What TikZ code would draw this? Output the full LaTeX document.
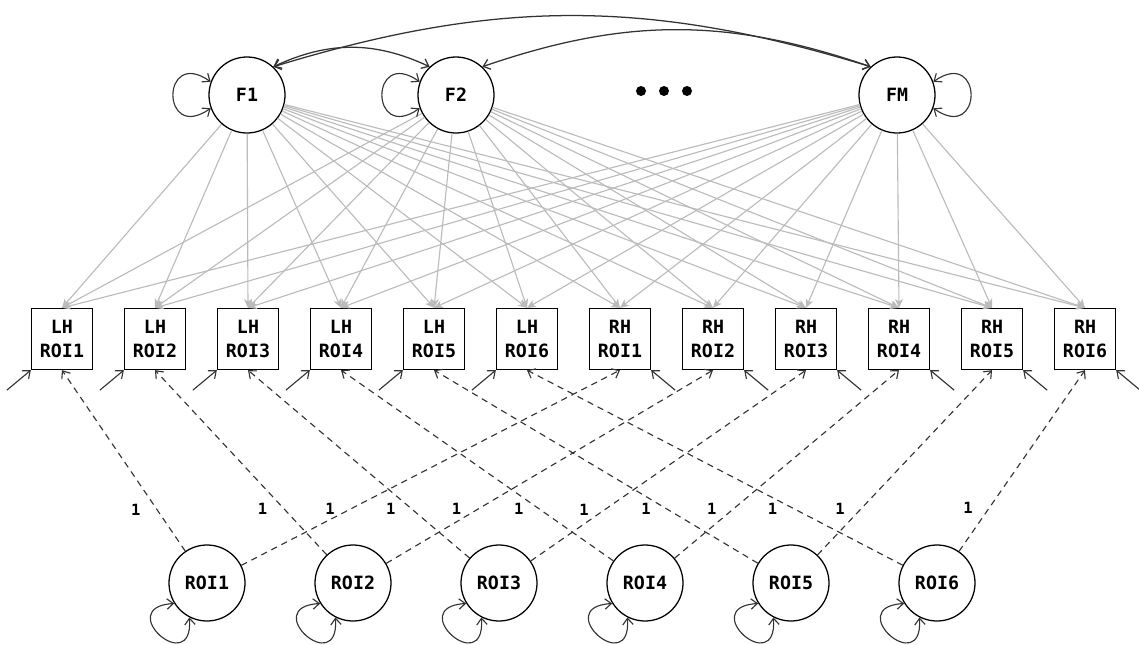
\documentclass[tikz,border=0pt]{standalone}
\usepackage{fontspec}
\setmonofont{DejaVu Sans Mono}
\usetikzlibrary{arrows.meta}
\definecolor{loadgray}{RGB}{187,187,187}
\definecolor{pathgray}{RGB}{51,51,51}

\begin{document}
\begin{tikzpicture}[
  x=0.025cm, y=-0.025cm,
  >={Straight Barb[length=1.6mm, width=2.6mm]},
  every node/.style={font=\ttfamily\bfseries\fontsize{13}{17}\selectfont},
  latent/.style={circle, draw=black, line width=0.9pt, minimum size=1.9cm, inner sep=0pt},
  indicator/.style={rectangle, draw=black, line width=0.9pt, minimum size=1.525cm, inner sep=0pt, align=center},
  dotmark/.style={circle, fill=black, minimum size=0.25cm, inner sep=0pt},
  loading/.style={-{Stealth[length=2.2mm, width=2mm, inset=0.6mm]}, draw=loadgray, line width=0.8pt},
  covar/.style={<->, draw=pathgray, line width=0.9pt},
  selfloop/.style={<->, draw=pathgray, line width=0.8pt},
  residual/.style={->, draw=pathgray, line width=0.8pt},
  fixedpath/.style={->, draw=pathgray, line width=0.8pt, dash pattern=on 4.5pt off 3.5pt},
  onelabel/.style={font=\ttfamily\bfseries\fontsize{11}{12}\selectfont, left=8pt},
]
\useasboundingbox (0,0) rectangle (1139,645);

% ---- common factors ----
\node[latent] (F1) at (247,95) {F1};
\node[latent] (F2) at (456,95) {F2};
\node[latent] (FM) at (897,95) {FM};
\node[dotmark] (d1) at (641,91) {};
\node[dotmark] (d2) at (664,91) {};
\node[dotmark] (d3) at (687,91) {};

% ---- observed ROIs and unique ROI factors ----
\foreach \i in {1,...,6} {
  \node[indicator] (LH\i) at ({62+93*(\i-1)},339) {LH\\ROI\i};
  \node[indicator] (RH\i) at ({620+93*(\i-1)},339) {RH\\ROI\i};
  \node[latent] (R\i) at ({207+146*(\i-1)},583) {ROI\i};
}

% ---- loadings ----
\foreach \f in {F1,F2,FM}
  \foreach \i in {1,...,6} {
    \draw[loading] (\f) -- (LH\i.north);
    \draw[loading] (\f) -- (RH\i.north);
  }

% ---- factor covariances and variances ----
\draw[covar] (F1.47) to[bend left=25] (F2.133);
\draw[covar] (F1.47) to[bend left=17] (FM.133);
\draw[covar] (F2.47) to[bend left=19] (FM.133);
\draw[selfloop] (F1.160) .. controls +(-50,-35) and +(-50,35) .. (F1.200);
\draw[selfloop] (F2.160) .. controls +(-50,-35) and +(-50,35) .. (F2.200);
\draw[selfloop] (FM.20) .. controls +(50,-35) and +(50,35) .. (FM.-20);

% ---- residuals ----
\foreach \i in {1,...,6} {
  \coordinate (eL\i) at ([shift={(-24,20)}]LH\i.south west);
  \coordinate (eR\i) at ([shift={(24,20)}]RH\i.south east);
  \draw[residual] (eL\i) -- (LH\i.south west);
  \draw[residual] (eR\i) -- (RH\i.south east);
  \draw[selfloop] (R\i.212) .. controls +(-62,4) and +(4,62) .. (R\i.243);
}

% ---- fixed paths (=1) ----
\foreach \i/\pl/\pr in {1/.23/.29, 2/.25/.28, 3/.26/.27, 4/.27/.26, 5/.28/.25, 6/.29/.24} {
  \draw[fixedpath] (R\i) -- node[onelabel, pos=\pl] {1} (LH\i.south);
  \draw[fixedpath] (R\i) -- node[onelabel, pos=\pr] {1} (RH\i.south);
}

\end{tikzpicture}
\end{document}
